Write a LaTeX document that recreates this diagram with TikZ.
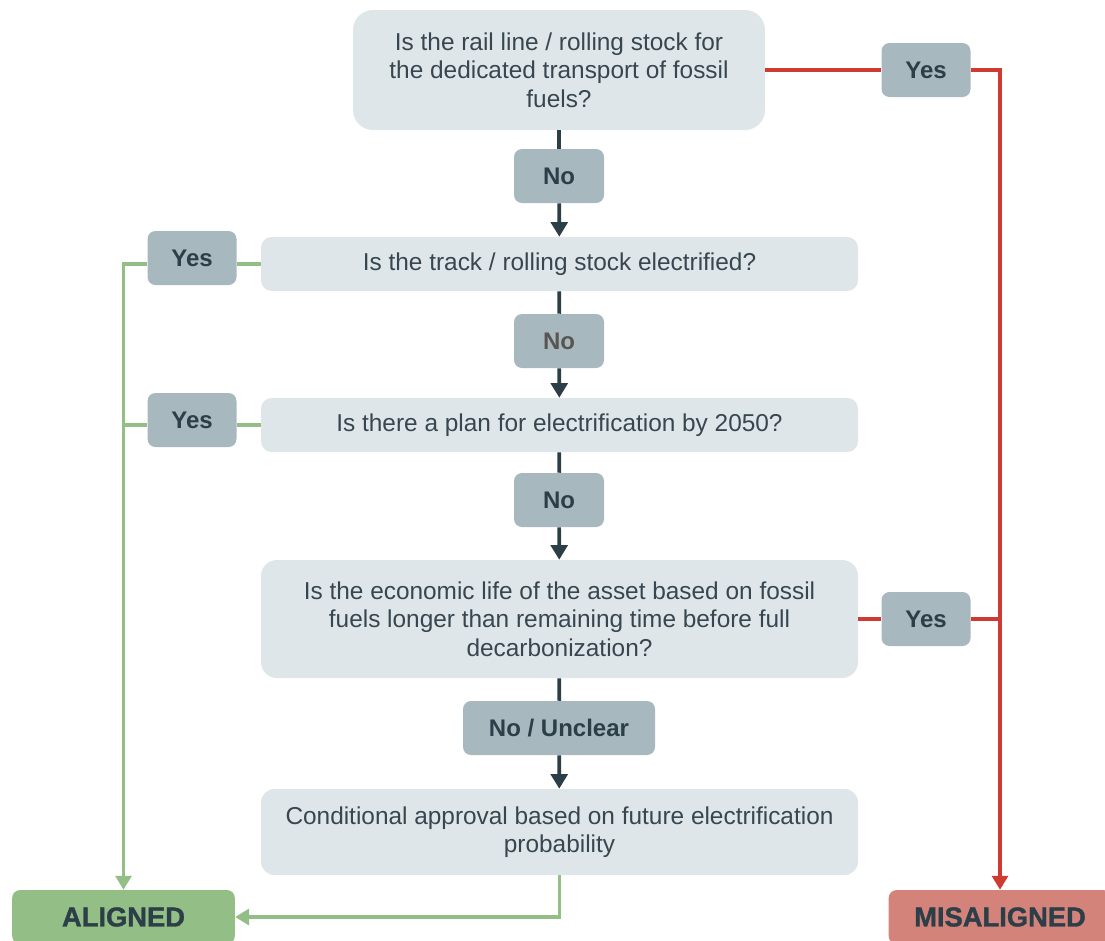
\documentclass[tikz,border=0pt]{standalone}
\usepackage{fontspec}
\setmainfont{Liberation Sans}
\usetikzlibrary{arrows.meta, positioning, calc}
\definecolor{boxgrey}{HTML}{DFE6EA}
\definecolor{taggrey}{HTML}{A8B8BF}
\definecolor{inkdark}{HTML}{2C3E48}
\definecolor{inkmuted}{HTML}{595553}
\definecolor{qtext}{HTML}{37464F}
\definecolor{okgreen}{HTML}{93BF87}
\definecolor{badred}{HTML}{CF3B33}
\definecolor{badfill}{HTML}{D4837B}

\begin{document}
\begin{tikzpicture}[x=0.75pt, y=-0.75pt,
        question/.style={fill=boxgrey, rounded corners=8pt, minimum width=447.75pt,
                         minimum height=40.5pt, inner sep=0pt, align=center,
                         text=qtext, font=\fontsize{18.3}{21.4}\selectfont},
        answer/.style={fill=taggrey, rounded corners=6pt, minimum width=67.5pt,
                       minimum height=40.5pt, inner sep=0pt, text=inkdark,
                       font=\fontsize{18}{21}\selectfont\bfseries},
        verdict/.style={rounded corners=6pt, minimum width=167pt, minimum height=40.5pt,
                        inner sep=0pt, text=inkdark,
                        font=\fontsize{20.5}{24}\selectfont\bfseries\addfontfeature{FakeBold=1.2}},
        link/.style={line width=2.8pt, draw=inkdark},
        arr/.style={link, -{Triangle[width=12.5pt,length=11pt]}},
        yesgreen/.style={line width=2.4pt, draw=okgreen},
        yesred/.style={line width=2.4pt, draw=badred},
        tip/.style={-{Triangle[width=12pt,length=10.5pt]}}
      ]
        \useasboundingbox (0,0) rectangle (1105,940);
        \clip (0,0) rectangle (1105,940);

        % questions
        \node[question, minimum width=309pt, minimum height=90pt, rounded corners=15pt] (q1) at (559,70)
             {Is the rail line / rolling stock for\\the dedicated transport of fossil\\fuels?};
        \node[question] (q2) at (559.5,264) {Is the track / rolling stock electrified?};
        \node[question] (q3) at (559.5,425) {Is there a plan for electrification by 2050?};
        \node[question, minimum height=88.5pt, rounded corners=12pt] (q4) at (559.5,619)
             {Is the economic life of the asset based on fossil\\fuels longer than remaining time before full\\decarbonization?};
        \node[question, minimum height=64.5pt, rounded corners=10pt] (q5) at (559.5,832)
             {Conditional approval based on future electrification\\probability};

        % answers
        \node[answer] (no1) at (559,176) {No};
        \node[answer, text=inkmuted] (no2) at (559,341) {No};
        \node[answer] (no3) at (559,500) {No};
        \node[answer, minimum width=144pt] (no4) at (559,728) {No / Unclear};
        \node[answer, minimum width=66.75pt] (yes1) at (926,70) {Yes};
        \node[answer, minimum width=66.75pt] (yes4) at (926,619) {Yes};
        \node[answer, minimum width=66.75pt] (yes2) at (192,258) {Yes};
        \node[answer, minimum width=66.75pt] (yes3) at (192,420) {Yes};

        % outcomes
        \node[verdict, fill=okgreen] (aligned) at (123.5,917) {ALIGNED};
        \node[verdict, fill=badfill] (misaligned) at (1000,917) {MISALIGNED};

        % main path
        \draw[link] (q1) -- (no1);
        \draw[arr] (no1) -- (q2);
        \draw[link] (q2) -- (no2);
        \draw[arr] (no2) -- (q3);
        \draw[link] (q3) -- (no3);
        \draw[arr] (no3) -- (q4);
        \draw[link] (q4) -- (no4);
        \draw[arr] (no4) -- (q5);

        % misaligned branch
        \draw[yesred] (q1.east) -- (q1.east -| yes1.west);
        \draw[yesred, tip] (q1.east -| yes1.east) -| (misaligned.north);
        \draw[yesred] (q4.east) -- (q4.east -| yes4.west);
        \draw[yesred] (q4.east -| yes4.east) -- (q4.east -| misaligned.north);

        % aligned branch
        \draw[yesgreen] (q2.west) -- (q2.west -| yes2.east);
        \draw[yesgreen, tip] (q2.west -| yes2.west) -| (aligned.north);
        \draw[yesgreen] (q3.west) -- (q3.west -| yes3.east);
        \draw[yesgreen] (q3.west -| yes3.west) -- (q3.west -| aligned.north);
        \draw[yesgreen, tip] (q5.south) |- (aligned.east);
      \end{tikzpicture}
\end{document}
